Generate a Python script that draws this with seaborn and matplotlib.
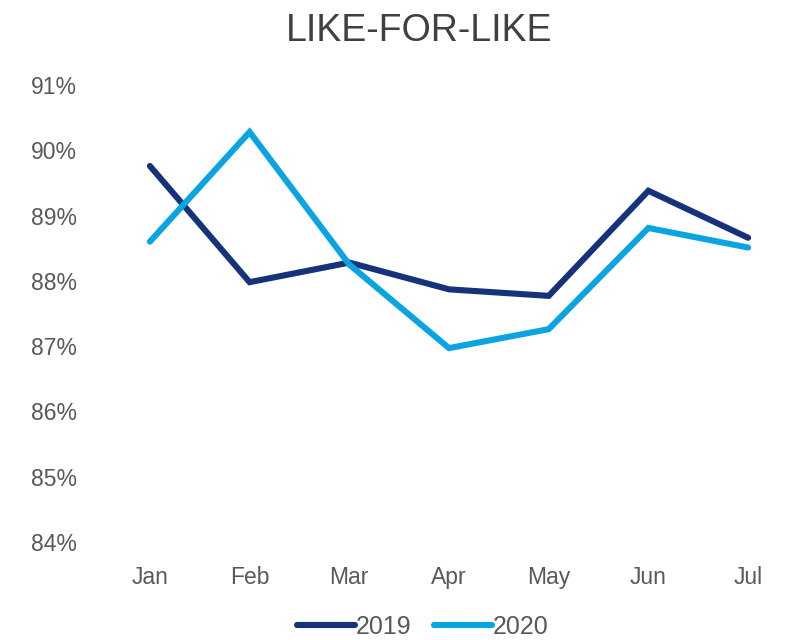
import matplotlib
matplotlib.use("Agg")
import matplotlib.pyplot as plt
import seaborn as sns
import pandas as pd

months = ["Jan", "Feb", "Mar", "Apr", "May", "Jun", "Jul"]
lfl_2019 = [89.76, 87.98, 88.28, 87.87, 87.77, 89.38, 88.66]
lfl_2020 = [88.60, 90.28, 88.25, 86.97, 87.26, 88.81, 88.51]
years = ["2019", "2020"]
colors = ["#15327a", "#0ba4e2"]
y_ticks = [84, 85, 86, 87, 88, 89, 90, 91]

df = pd.DataFrame({
    "month": months * 2,
    "value": lfl_2019 + lfl_2020,
    "year": [years[0]] * len(months) + [years[1]] * len(months),
})

sns.set_theme(style="white")
plt.rcParams["font.family"] = ["Liberation Sans", "DejaVu Sans"]

fig = plt.figure(figsize=(7.95, 6.4), dpi=100)
ax = fig.add_axes([110 / 795, 98 / 640, 678 / 795, 457 / 640])

sns.lineplot(data=df, x="month", y="value", hue="year", hue_order=years,
             palette=colors, linewidth=4.4, ax=ax, legend=False,
             sort=False, solid_capstyle="round", solid_joinstyle="miter")
for line in ax.lines:
    line.set_clip_on(False)

ax.set_xlim(-0.4, 6.4)
ax.set_ylim(84, 91)
ax.set_yticks(y_ticks)
ax.set_yticklabels([f"{v}%" for v in y_ticks])
ax.set_xlabel("")
ax.set_ylabel("")
for s in ax.spines.values():
    s.set_visible(False)
ax.tick_params(axis="y", length=0, pad=24, labelsize=16.5, labelcolor="#595959")
ax.tick_params(axis="x", length=0, pad=17, labelsize=16.5, labelcolor="#595959")

fig.text(0.527, 0.952, "LIKE-FOR-LIKE", ha="center", va="center",
         fontsize=27, color="#404040")

handles = [plt.Line2D([], [], color=c, linewidth=4.4, solid_capstyle="round")
           for c in colors]
fig.legend(handles, years, loc="center", bbox_to_anchor=(0.532, 0.02),
           ncol=2, frameon=False, fontsize=18, handlelength=2.3,
           handletextpad=0.05, columnspacing=0.9, labelcolor="#595959")

fig.savefig("out.png", dpi=100)
